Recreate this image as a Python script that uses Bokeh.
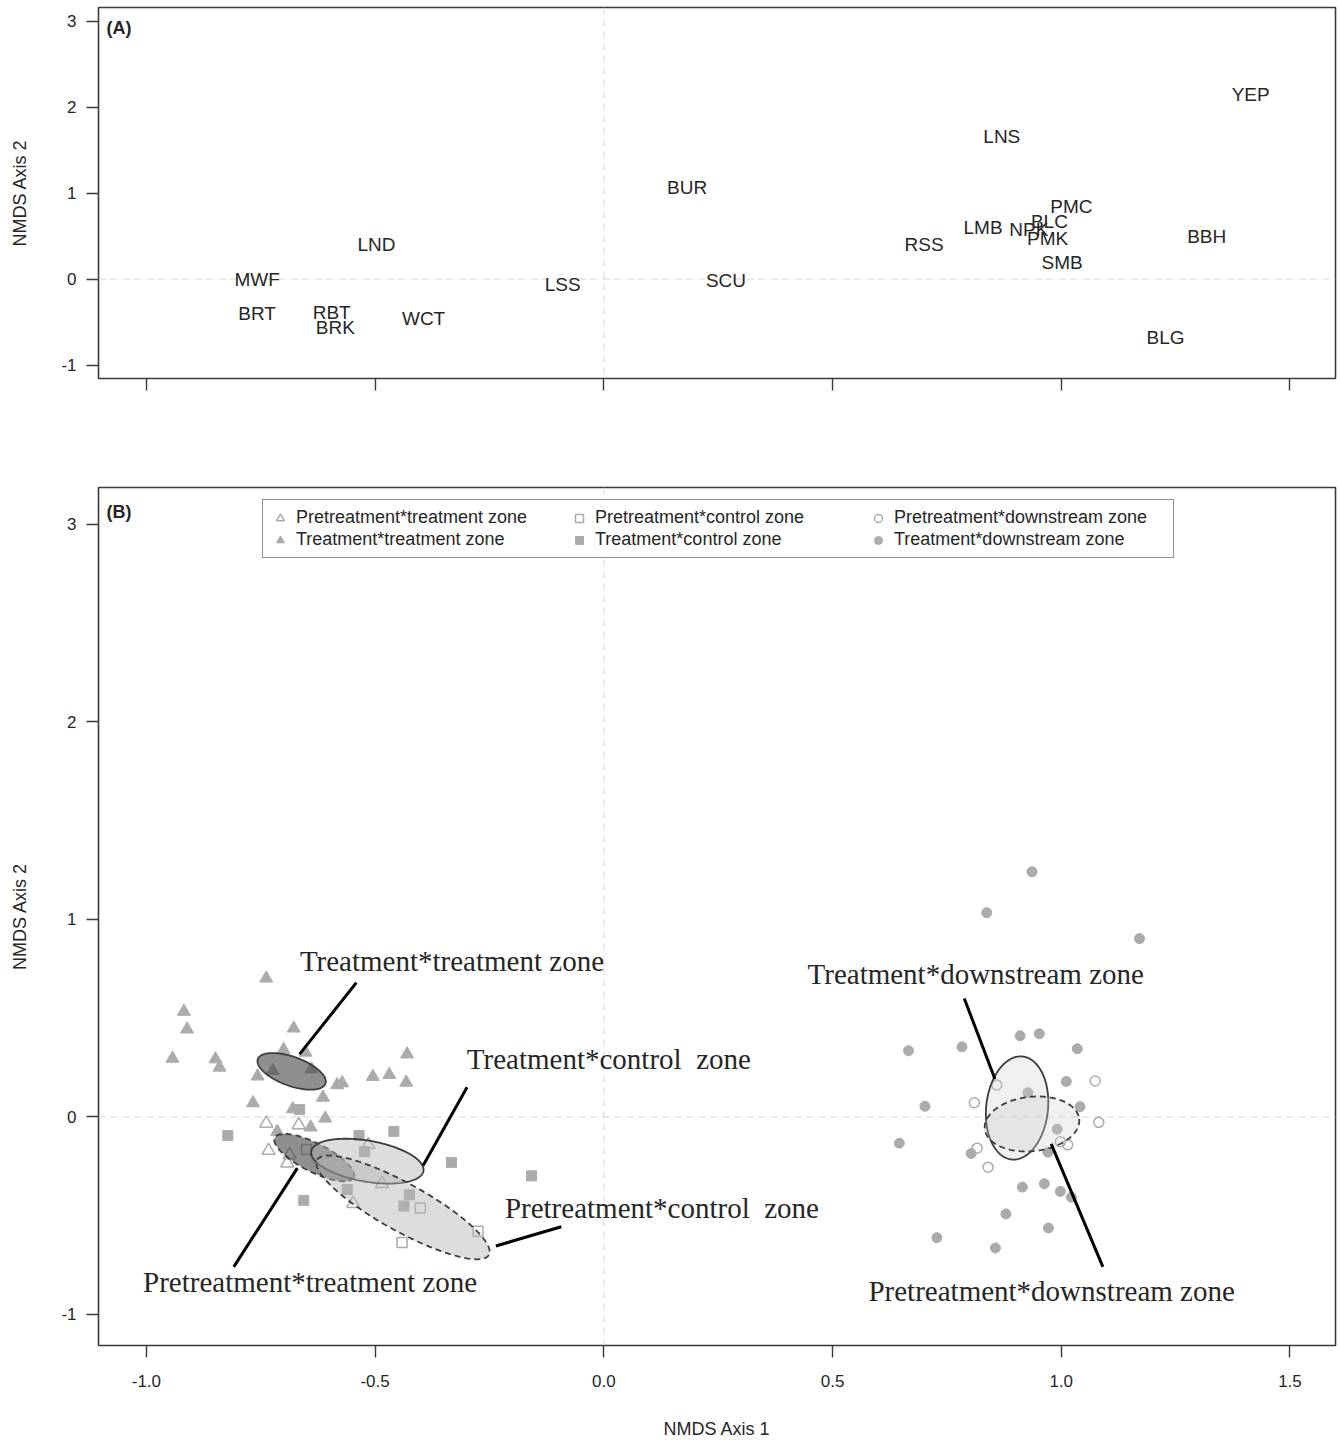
import numpy as np
from bokeh.plotting import figure
from bokeh.models import Range1d, FixedTicker, Span, Label, Legend, LegendItem
from bokeh.layouts import column
from bokeh.embed import file_html
from bokeh.resources import INLINE
from bokeh.core.properties import value

# ---------------- Panel A: species scores ----------------
species = ["YEP", "LNS", "BUR", "PMC", "BLC", "LMB", "NPK", "PMK", "BBH", "RSS",
           "SMB", "BLG", "LND", "MWF", "SCU", "LSS", "BRT", "RBT", "BRK", "WCT"]
sp_axis1 = [1.414, 0.870, 0.182, 1.022, 0.974, 0.829, 0.929, 0.970, 1.318, 0.700,
            1.002, 1.228, -0.497, -0.758, 0.267, -0.090, -0.758, -0.595, -0.587, -0.394]
sp_axis2 = [2.147, 1.658, 1.065, 0.844, 0.670, 0.600, 0.579, 0.472, 0.495, 0.402,
            0.193, -0.679, 0.402, -0.005, -0.016, -0.063, -0.403, -0.385, -0.559, -0.462]

# ---------------- Panel B: site scores ----------------
pt_x = [-0.738, -0.667, -0.733, -0.687, -0.692, -0.515, -0.485, -0.548]   # Pretreatment*treatment
pt_y = [-0.033, -0.040, -0.170, -0.192, -0.234, -0.141, -0.338, -0.439]
tt_x = [-0.738, -0.918, -0.911, -0.678, -0.943, -0.849, -0.840, -0.700, -0.652, -0.724,
        -0.639, -0.757, -0.430, -0.505, -0.469, -0.432, -0.583, -0.572, -0.614, -0.767,
        -0.680, -0.609, -0.641, -0.714]                                     # Treatment*treatment
tt_y = [0.702, 0.534, 0.444, 0.449, 0.296, 0.293, 0.251, 0.340, 0.327, 0.234,
        0.242, 0.206, 0.318, 0.204, 0.214, 0.175, 0.162, 0.172, 0.099, 0.071,
        0.040, -0.007, -0.052, -0.074]
pc_x = [-0.650, -0.401, -0.275, -0.441]                                      # Pretreatment*control
pc_y = [-0.165, -0.461, -0.579, -0.636]
tc_x = [-0.665, -0.822, -0.535, -0.459, -0.523, -0.333, -0.158, -0.561, -0.425, -0.437, -0.656]
tc_y = [0.037, -0.094, -0.094, -0.073, -0.175, -0.230, -0.298, -0.367, -0.394, -0.451, -0.422]
pd_x = [0.859, 1.074, 0.810, 1.082, 0.816, 0.998, 1.014, 0.840]              # Pretreatment*downstream
pd_y = [0.162, 0.182, 0.072, -0.027, -0.158, -0.125, -0.141, -0.254]
td_x = [0.936, 0.837, 1.171, 0.910, 0.952, 0.666, 0.783, 1.035, 1.011, 0.927, 0.702, 1.041,
        0.646, 0.991, 0.803, 0.971, 0.915, 0.963, 0.998, 1.022, 0.879, 0.972, 0.728, 0.856]
td_y = [1.241, 1.034, 0.903, 0.411, 0.421, 0.335, 0.355, 0.345, 0.180, 0.123, 0.054, 0.052,
        -0.133, -0.062, -0.185, -0.178, -0.355, -0.338, -0.377, -0.406, -0.491, -0.562, -0.611, -0.663]

# Group ellipses: centre and the two semi-axis vectors (data units)
ell_names = ["Treatment*treatment zone", "Pretreatment*treatment zone",
             "Treatment*control zone", "Pretreatment*control zone",
             "Treatment*downstream zone", "Pretreatment*downstream zone"]
ell_cx = [-0.6825, -0.633, -0.517, -0.439, 0.9034, 0.936]
ell_cy = [0.231, -0.2056, -0.2237, -0.458, 0.0455, -0.0354]
ell_major = [(0.0739, -0.0621), (0.0863, -0.1015), (0.1227, -0.0500),
             (0.1877, -0.2404), (0.01185, 0.2607), (0.1032, 0.0251)]
ell_minor = [(-0.0108, -0.0688), (-0.01418, -0.0643), (-0.00778, -0.1020),
             (-0.02533, -0.1056), (0.0672, -0.0163), (0.00623, -0.1371)]

# Callout labels and their leader lines (data units)
ann_text = ["Treatment*treatment zone", "Treatment*control\u00a0 zone", "Pretreatment*control\u00a0 zone",
            "Pretreatment*treatment zone", "Treatment*downstream zone", "Pretreatment*downstream zone"]
ann_x = [-0.332, 0.011, 0.127, -0.642, 0.813, 0.979]
ann_y = [0.788, 0.293, -0.460, -0.833, 0.722, -0.879]
lead_x0 = [-0.541, -0.299, -0.093, -0.670, 0.788, 0.978]
lead_y0 = [0.680, 0.150, -0.556, -0.259, 0.600, -0.136]
lead_x1 = [-0.665, -0.395, -0.236, -0.809, 0.855, 1.091]
lead_y1 = [0.318, -0.246, -0.653, -0.759, 0.192, -0.759]

x_ticks = [-1.0, -0.5, 0.0, 0.5, 1.0, 1.5]
x_tick_labels = ["-1.0", "-0.5", "0.0", "0.5", "1.0", "1.5"]
y_ticks = [-1, 0, 1, 2, 3]
y_tick_labels = ["-1", "0", "1", "2", "3"]

SANS = "Liberation Sans"
SERIF = "Liberation Serif"
TXT = "#262626"
FRAME = "#3a3a3a"
PT_GREY = "#ababab"


def style(p, show_x_labels):
    p.outline_line_color = FRAME
    p.outline_line_width = 1.6
    p.grid.visible = False
    for ax in (p.xaxis[0], p.yaxis[0]):
        ax.axis_line_color = None
        ax.major_tick_line_color = FRAME
        ax.major_tick_line_width = 1.4
        ax.major_tick_in = 0
        ax.major_tick_out = 12
        ax.minor_tick_line_color = None
        ax.major_label_text_font = SANS
        ax.major_label_text_font_size = "17px"
        ax.major_label_text_color = TXT
        ax.axis_label_text_font = SANS
        ax.axis_label_text_font_size = "18px"
        ax.axis_label_text_font_style = "normal"
        ax.axis_label_text_color = TXT
    p.xaxis.ticker = FixedTicker(ticks=x_ticks)
    p.yaxis.ticker = FixedTicker(ticks=y_ticks)
    p.yaxis.major_label_overrides = dict(zip(y_ticks, y_tick_labels))
    p.yaxis.major_label_orientation = "horizontal"
    p.yaxis.major_label_standoff = 10
    p.yaxis.axis_label = "NMDS Axis 2"
    p.yaxis.axis_label_standoff = 28
    if show_x_labels:
        p.xaxis.axis_label = "NMDS Axis 1"
        p.xaxis.major_label_standoff = 17
        p.xaxis.axis_label_standoff = 29
        p.xaxis.major_label_overrides = dict(zip(x_ticks, x_tick_labels))
    else:
        p.xaxis.major_label_overrides = {tk: "" for tk in x_ticks}
    for dim in ("width", "height"):
        p.add_layout(Span(location=0, dimension=dim, line_color="#d6d6d6",
                          line_dash="7 5", line_width=1, level="underlay"))


XR = (-1.1047, 1.5995)

# ---------------- Figure A ----------------
pA = figure(width=1340, height=420, output_backend="svg", toolbar_location=None,
            x_range=Range1d(*XR), y_range=Range1d(-1.156, 3.157),
            min_border_left=98, min_border_right=5, min_border_top=7, min_border_bottom=42)
style(pA, False)
pA.text(x=sp_axis1, y=sp_axis2, text=species, text_font=value(SANS), text_font_size="19px",
        text_align="center", text_baseline="middle", text_color=TXT)
pA.add_layout(Label(x=8, y=361, x_units="screen", y_units="screen", text="(A)",
                    text_font=SANS, text_font_size="18px", text_font_style="bold",
                    text_color=TXT, text_baseline="top"))

# ---------------- Figure B ----------------
pB = figure(width=1340, height=1021, output_backend="svg", toolbar_location=None,
            x_range=Range1d(*XR), y_range=Range1d(-1.157, 3.187),
            min_border_left=98, min_border_right=5, min_border_top=67, min_border_bottom=94)
style(pB, True)

r_pt = pB.scatter(pt_x, pt_y, marker="triangle", size=13, fill_color=None,
                  line_color=PT_GREY, line_width=1.5)
r_tt = pB.scatter(tt_x, tt_y, marker="triangle", size=13, fill_color=PT_GREY,
                  line_color=PT_GREY)
r_pc = pB.scatter(pc_x, pc_y, marker="square", size=10, fill_color=None,
                  line_color=PT_GREY, line_width=1.5)
r_tc = pB.scatter(tc_x, tc_y, marker="square", size=10, fill_color=PT_GREY,
                  line_color=PT_GREY)
r_pd = pB.scatter(pd_x, pd_y, marker="circle", size=10, fill_color=None,
                  line_color=PT_GREY, line_width=1.5)
r_td = pB.scatter(td_x, td_y, marker="circle", size=10, fill_color=PT_GREY,
                  line_color=PT_GREY)

ell_fill = ["#444444", "#444444", "#b4b4b4", "#b4b4b4", "#cccccc", "#cccccc"]
ell_alpha = [0.6, 0.6, 0.45, 0.45, 0.3, 0.3]
ell_dash = ["solid", "6 4", "solid", "6 4", "solid", "6 4"]
t = np.linspace(0, 2 * np.pi, 240)
for i in range(len(ell_names)):
    ex = ell_cx[i] + ell_major[i][0] * np.cos(t) + ell_minor[i][0] * np.sin(t)
    ey = ell_cy[i] + ell_major[i][1] * np.cos(t) + ell_minor[i][1] * np.sin(t)
    pB.patch(ex, ey, fill_color=ell_fill[i], fill_alpha=ell_alpha[i],
              line_color="#3c3c3c", line_width=1.8, line_dash=ell_dash[i])

pB.segment(lead_x0, lead_y0, lead_x1, lead_y1, line_color="black", line_width=3)
pB.text(x=ann_x, y=ann_y, text=ann_text, text_font=value(SERIF), text_font_size="29px",
        text_align="center", text_baseline="middle", text_color=TXT)

legend = Legend(items=[
    LegendItem(label="Pretreatment*treatment zone", renderers=[r_pt]),
    LegendItem(label="Treatment*treatment zone", renderers=[r_tt]),
    LegendItem(label="Pretreatment*control zone", renderers=[r_pc]),
    LegendItem(label="Treatment*control zone", renderers=[r_tc]),
    LegendItem(label="Pretreatment*downstream zone", renderers=[r_pd]),
    LegendItem(label="Treatment*downstream zone", renderers=[r_td]),
], orientation="vertical", nrows=2, location=(164, 787))
legend.label_text_font = SANS
legend.label_text_font_size = "18px"
legend.label_text_color = TXT
legend.border_line_color = "#222222"
legend.border_line_width = 1.2
legend.padding = 7
legend.spacing = 1
legend.margin = 0
legend.glyph_width = 20
legend.glyph_height = 20
legend.label_height = 20
legend.label_width = 272
legend.label_standoff = 6
legend.background_fill_color = "white"
legend.background_fill_alpha = 1
pB.add_layout(legend, "center")

pB.add_layout(Label(x=8, y=844, x_units="screen", y_units="screen", text="(B)",
                    text_font=SANS, text_font_size="18px", text_font_style="bold",
                    text_color=TXT, text_baseline="top"))

layout = column(pA, pB, spacing=0)
open("out.html", "w").write(file_html(layout, INLINE))
